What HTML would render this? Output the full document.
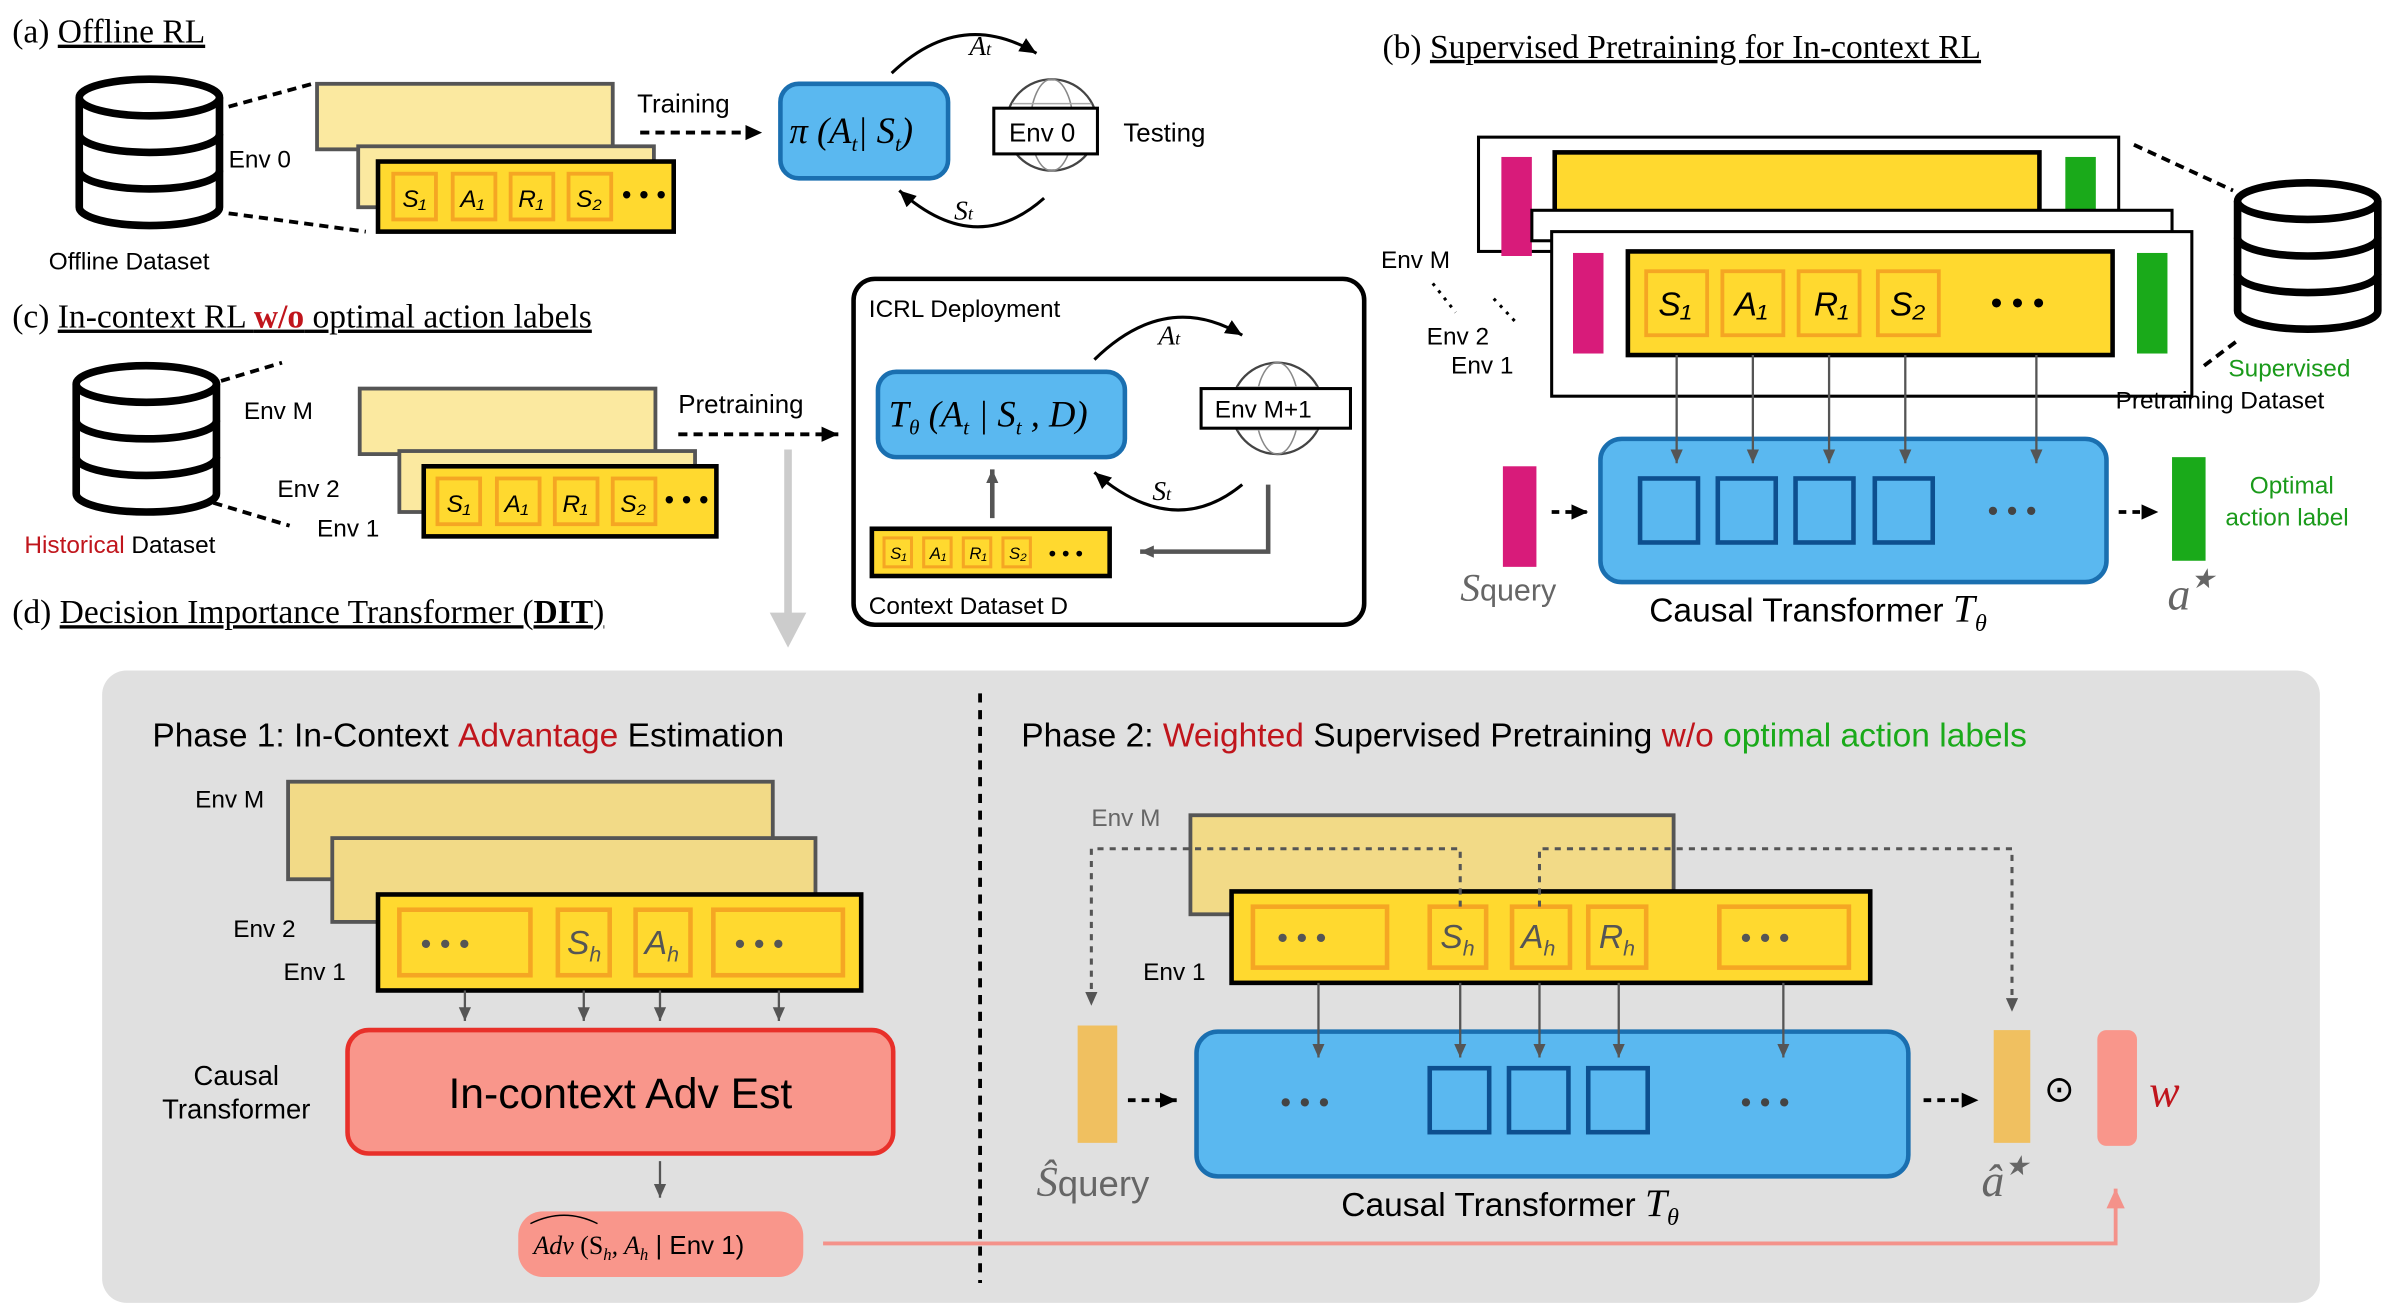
<!DOCTYPE html>
<html><head><meta charset="utf-8"><style>
html,body{margin:0;padding:0;background:#fff;}
svg{display:block;}
text{font-family:"Liberation Sans",sans-serif;}
.s{font-family:"Liberation Serif",serif;}
</style></head><body>
<svg width="2390" height="1312" viewBox="0 0 1568 861" preserveAspectRatio="none" xmlns="http://www.w3.org/2000/svg">
<defs>
<marker id="ah" markerUnits="userSpaceOnUse" markerWidth="12" markerHeight="12" refX="11" refY="6" orient="auto"><path d="M0,1 L11,6 L0,11 z" fill="#000"/></marker>
<marker id="ag" markerUnits="userSpaceOnUse" markerWidth="10" markerHeight="10" refX="9" refY="5" orient="auto"><path d="M0,1 L9,5 L0,9 z" fill="#555"/></marker>
<marker id="ap" markerUnits="userSpaceOnUse" markerWidth="14" markerHeight="14" refX="13" refY="7" orient="auto"><path d="M0,1 L13,7 L0,13 z" fill="#f4928a"/></marker>
<g id="db">
<path d="M0,12 v72 a46,12 0 0 0 92,0 v-72" fill="#fff" stroke="#000" stroke-width="5"/>
<ellipse cx="46" cy="12" rx="46" ry="12" fill="#fff" stroke="#000" stroke-width="5"/>
<path d="M0,36 a46,12 0 0 0 92,0 M0,60 a46,12 0 0 0 92,0" fill="none" stroke="#000" stroke-width="5"/>
</g>
<g id="globe"><circle cx="0" cy="0" r="30" fill="#fff" stroke="#444" stroke-width="1.5"/><ellipse cx="0" cy="0" rx="14" ry="30" fill="none" stroke="#888"/><line x1="-30" y1="0" x2="30" y2="0" stroke="#888"/><path d="M-26,-14 h52 M-26,14 h52" stroke="#aaa" fill="none"/></g>
</defs>

<!-- (a) -->
<text x="8" y="28" font-size="22" class="s">(a) <tspan text-decoration="underline">Offline RL</tspan></text>
<use href="#db" x="52" y="52"/>
<text x="32" y="177" font-size="16">Offline Dataset</text>
<path d="M150,70 L205,55 M150,140 L240,152" stroke="#000" stroke-width="2.5" stroke-dasharray="6,4"/>
<rect x="208" y="55" width="194" height="43" fill="#fbe9a0" stroke="#555" stroke-width="2.5"/>
<rect x="235" y="96" width="194" height="40" fill="#fbe9a0" stroke="#555" stroke-width="2.5"/>
<text x="150" y="110" font-size="16">Env 0</text>
<rect x="248" y="106" width="194" height="46" fill="#ffd92f" stroke="#000" stroke-width="3"/>
<g fill="#ffd92f" stroke="#f5a623" stroke-width="2.5">
<rect x="258" y="114" width="28" height="30"/><rect x="297" y="114" width="28" height="30"/><rect x="335" y="114" width="28" height="30"/><rect x="373" y="114" width="28" height="30"/></g>
<g font-size="16" class="s" font-style="italic"><text x="264" y="136">S₁</text><text x="302" y="136">A₁</text><text x="340" y="136">R₁</text><text x="378" y="136">S₂</text></g>
<text x="408" y="134" font-size="18">• • •</text>
<text x="418" y="74" font-size="17">Training</text>
<line x1="420" y1="87" x2="500" y2="87" stroke="#000" stroke-width="2.5" stroke-dasharray="6,4" marker-end="url(#ah)"/>
<rect x="512" y="55" width="110" height="62" rx="12" fill="#5ab8f0" stroke="#1a6fb0" stroke-width="3"/>
<text x="518" y="94" font-size="24" class="s" font-style="italic">π (A<tspan font-size="14" dy="5">t</tspan><tspan dy="-5">| S</tspan><tspan font-size="14" dy="5">t</tspan><tspan dy="-5">)</tspan></text>
<path d="M585,48 Q630,5 680,35" fill="none" stroke="#000" stroke-width="2" marker-end="url(#ah)"/>
<text x="636" y="36" font-size="18" class="s" font-style="italic">A<tspan font-size="12">t</tspan></text>
<path d="M685,130 Q640,170 590,125" fill="none" stroke="#000" stroke-width="2" marker-end="url(#ah)"/>
<text x="626" y="144" font-size="18" class="s" font-style="italic">S<tspan font-size="12">t</tspan></text>
<use href="#globe" x="690" y="82"/>
<rect x="652" y="71" width="68" height="30" fill="#fff" stroke="#000" stroke-width="2"/>
<text x="662" y="93" font-size="17">Env 0</text>
<text x="737" y="93" font-size="17">Testing</text>

<!-- (b) -->
<text x="907" y="38" font-size="22" class="s">(b) <tspan text-decoration="underline">Supervised Pretraining for In-context RL</tspan></text>
<rect x="970" y="90" width="420" height="75" fill="#fff" stroke="#000" stroke-width="2"/>
<rect x="985" y="103" width="20" height="65" fill="#d81b7a"/>
<rect x="1020" y="100" width="318" height="40" fill="#ffd92f" stroke="#000" stroke-width="3"/>
<rect x="1355" y="103" width="20" height="40" fill="#1aaa1a"/>
<rect x="1005" y="138" width="420" height="20" fill="#fff" stroke="#000" stroke-width="2"/>
<rect x="1018" y="152" width="420" height="108" fill="#fff" stroke="#000" stroke-width="2"/>
<rect x="1032" y="166" width="20" height="66" fill="#d81b7a"/>
<rect x="1068" y="165" width="318" height="68" fill="#ffd92f" stroke="#000" stroke-width="3"/>
<rect x="1402" y="166" width="20" height="66" fill="#1aaa1a"/>
<g fill="#ffd92f" stroke="#f5a623" stroke-width="2.5">
<rect x="1080" y="178" width="40" height="42"/><rect x="1130" y="178" width="40" height="42"/><rect x="1180" y="178" width="40" height="42"/><rect x="1232" y="178" width="40" height="42"/></g>
<g font-size="22" class="s" font-style="italic"><text x="1088" y="207">S₁</text><text x="1138" y="207">A₁</text><text x="1190" y="207">R₁</text><text x="1240" y="207">S₂</text></g>
<text x="1306" y="206" font-size="22">• • •</text>
<text x="906" y="176" font-size="16">Env M</text>
<text x="936" y="226" font-size="16">Env 2</text>
<text x="952" y="245" font-size="16">Env 1</text>
<path d="M940,186 L955,205 M980,196 L995,212" stroke="#000" stroke-width="2" stroke-dasharray="2,4"/>
<use href="#db" x="1468" y="120"/>
<path d="M1400,95 L1465,125 M1446,240 L1470,222" stroke="#000" stroke-width="2.5" stroke-dasharray="6,4"/>
<text x="1462" y="247" font-size="16" fill="#1a9a1a">Supervised</text>
<text x="1388" y="268" font-size="16">Pretraining Dataset</text>
<rect x="1050" y="288" width="332" height="94" rx="14" fill="#5ab8f0" stroke="#1a6fb0" stroke-width="3"/>
<g stroke="#555" stroke-width="1.5" marker-end="url(#ag)">
<line x1="1100" y1="233" x2="1100" y2="304"/><line x1="1150" y1="233" x2="1150" y2="304"/><line x1="1200" y1="233" x2="1200" y2="304"/><line x1="1250" y1="233" x2="1250" y2="304"/><line x1="1336" y1="233" x2="1336" y2="304"/></g>
<g fill="none" stroke="#0d4f8f" stroke-width="3">
<rect x="1076" y="314" width="38" height="42"/><rect x="1127" y="314" width="38" height="42"/><rect x="1178" y="314" width="38" height="42"/><rect x="1230" y="314" width="38" height="42"/></g>
<text x="1304" y="342" font-size="20" fill="#444">• • •</text>
<rect x="986" y="306" width="22" height="66" fill="#d81b7a"/>
<line x1="1018" y1="336" x2="1042" y2="336" stroke="#000" stroke-width="2.5" stroke-dasharray="5,4" marker-end="url(#ah)"/>
<text x="958" y="394" font-size="26" fill="#666" class="s" font-style="italic">S<tspan font-family="Liberation Sans" font-style="normal" font-size="20">query</tspan></text>
<line x1="1390" y1="336" x2="1416" y2="336" stroke="#000" stroke-width="2.5" stroke-dasharray="5,4" marker-end="url(#ah)"/>
<rect x="1425" y="300" width="22" height="68" fill="#1aaa1a"/>
<text x="1476" y="324" font-size="16" fill="#1a9a1a">Optimal</text>
<text x="1460" y="345" font-size="16" fill="#1a9a1a">action label</text>
<text x="1422" y="400" font-size="30" fill="#666" class="s" font-style="italic">a<tspan font-size="18" dy="-14">★</tspan></text>
<text x="1082" y="408" font-size="22">Causal Transformer <tspan class="s" font-style="italic" font-size="26">T<tspan font-size="16" dy="6">θ</tspan></tspan></text>

<!-- (c) -->
<text x="8" y="215" font-size="22" class="s">(c) <tspan text-decoration="underline">In-context RL <tspan fill="#c0151c" font-weight="bold">w/o</tspan> optimal action labels</tspan></text>
<use href="#db" x="50" y="240"/>
<path d="M145,250 L185,238 M140,330 L190,345" stroke="#000" stroke-width="2.5" stroke-dasharray="6,4"/>
<rect x="236" y="255" width="194" height="43" fill="#fbe9a0" stroke="#555" stroke-width="2.5"/>
<rect x="262" y="296" width="194" height="40" fill="#fbe9a0" stroke="#555" stroke-width="2.5"/>
<rect x="278" y="306" width="192" height="46" fill="#ffd92f" stroke="#000" stroke-width="3"/>
<g fill="#ffd92f" stroke="#f5a623" stroke-width="2.5">
<rect x="287" y="314" width="28" height="30"/><rect x="326" y="314" width="28" height="30"/><rect x="364" y="314" width="28" height="30"/><rect x="402" y="314" width="28" height="30"/></g>
<g font-size="16" class="s" font-style="italic"><text x="293" y="336">S₁</text><text x="331" y="336">A₁</text><text x="369" y="336">R₁</text><text x="407" y="336">S₂</text></g>
<text x="436" y="334" font-size="18">• • •</text>
<text x="160" y="275" font-size="16">Env M</text>
<text x="182" y="326" font-size="16">Env 2</text>
<text x="208" y="352" font-size="16">Env 1</text>
<text x="16" y="363" font-size="16"><tspan fill="#c0151c">Historical</tspan> Dataset</text>
<text x="445" y="271" font-size="17">Pretraining</text>
<line x1="445" y1="285" x2="550" y2="285" stroke="#000" stroke-width="2.5" stroke-dasharray="6,4" marker-end="url(#ah)"/>
<line x1="517" y1="295" x2="517" y2="405" stroke="#ccc" stroke-width="5"/>
<path d="M505,402 L529,402 L517,425 z" fill="#ccc"/>
<rect x="560" y="183" width="335" height="227" rx="14" fill="#fff" stroke="#000" stroke-width="3"/>
<text x="570" y="208" font-size="16">ICRL Deployment</text>
<rect x="576" y="244" width="162" height="56" rx="12" fill="#5ab8f0" stroke="#1a6fb0" stroke-width="3"/>
<text x="583" y="280" font-size="24" class="s" font-style="italic">T<tspan font-size="14" dy="5">θ</tspan><tspan dy="-5"> (A</tspan><tspan font-size="14" dy="5">t</tspan><tspan dy="-5"> | S</tspan><tspan font-size="14" dy="5">t</tspan><tspan dy="-5"> , D)</tspan></text>
<path d="M718,236 Q765,190 815,220" fill="none" stroke="#000" stroke-width="2" marker-end="url(#ah)"/>
<text x="760" y="226" font-size="18" class="s" font-style="italic">A<tspan font-size="12">t</tspan></text>
<use href="#globe" x="838" y="268"/>
<rect x="788" y="255" width="98" height="26" fill="#fff" stroke="#000" stroke-width="2"/>
<text x="797" y="274" font-size="16">Env M+1</text>
<path d="M815,318 Q770,355 718,310" fill="none" stroke="#000" stroke-width="2" marker-end="url(#ah)"/>
<text x="756" y="328" font-size="18" class="s" font-style="italic">S<tspan font-size="12">t</tspan></text>
<path d="M832,318 L832,362 L748,362" fill="none" stroke="#555" stroke-width="3" marker-end="url(#ag)"/>
<line x1="651" y1="340" x2="651" y2="308" stroke="#555" stroke-width="3" marker-end="url(#ag)"/>
<rect x="572" y="347" width="156" height="31" fill="#ffd92f" stroke="#000" stroke-width="3"/>
<g fill="#ffd92f" stroke="#f5a623" stroke-width="2"><rect x="580" y="353" width="18" height="19"/><rect x="606" y="353" width="18" height="19"/><rect x="632" y="353" width="18" height="19"/><rect x="658" y="353" width="18" height="19"/></g>
<g font-size="11" class="s" font-style="italic"><text x="584" y="367">S₁</text><text x="610" y="367">A₁</text><text x="636" y="367">R₁</text><text x="662" y="367">S₂</text></g>
<text x="688" y="368" font-size="14">• • •</text>
<text x="570" y="403" font-size="16">Context Dataset D</text>

<!-- (d) -->
<text x="8" y="409" font-size="22" class="s">(d) <tspan text-decoration="underline">Decision Importance Transformer (<tspan font-weight="bold">DIT</tspan>)</tspan></text>
<rect x="67" y="440" width="1455" height="415" rx="16" fill="#e0e0e0"/>
<line x1="643" y1="455" x2="643" y2="842" stroke="#000" stroke-width="2.5" stroke-dasharray="6,5"/>
<text x="100" y="490" font-size="22">Phase 1: In-Context <tspan fill="#c0151c">Advantage</tspan> Estimation</text>
<text x="670" y="490" font-size="22">Phase 2: <tspan fill="#c0151c">Weighted</tspan> Supervised Pretraining <tspan fill="#c0151c">w/o</tspan> <tspan fill="#1aaa1a">optimal action labels</tspan></text>
<rect x="189" y="513" width="318" height="64" fill="#f2da87" stroke="#555" stroke-width="2.5"/>
<rect x="218" y="550" width="317" height="55" fill="#f2da87" stroke="#555" stroke-width="2.5"/>
<rect x="248" y="587" width="317" height="63" fill="#ffd92f" stroke="#000" stroke-width="3"/>
<g fill="#ffd92f" stroke="#f5a623" stroke-width="3"><rect x="262" y="597" width="86" height="43"/><rect x="366" y="597" width="34" height="43"/><rect x="417" y="597" width="36" height="43"/><rect x="468" y="597" width="85" height="43"/></g>
<text x="276" y="626" font-size="20" fill="#555">• • •</text><text x="482" y="626" font-size="20" fill="#555">• • •</text>
<g font-size="22" class="s" font-style="italic" fill="#555"><text x="372" y="626">S<tspan font-size="14" dy="5">h</tspan></text><text x="423" y="626">A<tspan font-size="14" dy="5">h</tspan></text></g>
<text x="128" y="530" font-size="16">Env M</text><text x="153" y="615" font-size="16">Env 2</text><text x="186" y="643" font-size="16">Env 1</text>
<g stroke="#555" stroke-width="1.5" marker-end="url(#ag)"><line x1="305" y1="650" x2="305" y2="670"/><line x1="383" y1="650" x2="383" y2="670"/><line x1="433" y1="650" x2="433" y2="670"/><line x1="511" y1="650" x2="511" y2="670"/></g>
<rect x="228" y="676" width="358" height="81" rx="14" fill="#f9968b" stroke="#e8302a" stroke-width="3"/>
<text x="407" y="727" font-size="28" text-anchor="middle">In-context Adv Est</text>
<text x="155" y="712" font-size="18" text-anchor="middle">Causal</text><text x="155" y="734" font-size="18" text-anchor="middle">Transformer</text>
<line x1="433" y1="762" x2="433" y2="786" stroke="#555" stroke-width="1.5" marker-end="url(#ag)"/>
<rect x="340" y="795" width="187" height="43" rx="16" fill="#f9968b"/>
<text x="350" y="823" font-size="17" class="s" font-style="italic">Adv<tspan font-style="normal"> (S</tspan><tspan font-size="11" dy="4">h</tspan><tspan dy="-4">, A</tspan><tspan font-size="11" dy="4">h</tspan><tspan dy="-4" font-family="Liberation Sans" font-style="normal"> | Env 1)</tspan></text>
<path d="M348,803 Q370,792 392,803" fill="none" stroke="#000" stroke-width="1"/>
<path d="M540,816 L1388,816 L1388,780" fill="none" stroke="#f4928a" stroke-width="2.5" marker-end="url(#ap)"/>

<rect x="781" y="535" width="317" height="65" fill="#f2da87" stroke="#555" stroke-width="2.5"/>
<rect x="808" y="585" width="419" height="60" fill="#ffd92f" stroke="#000" stroke-width="3"/>
<g fill="#ffd92f" stroke="#f5a623" stroke-width="3"><rect x="822" y="595" width="88" height="40"/><rect x="938" y="595" width="37" height="40"/><rect x="992" y="595" width="38" height="40"/><rect x="1042" y="595" width="38" height="40"/><rect x="1128" y="595" width="85" height="40"/></g>
<text x="838" y="622" font-size="20" fill="#555">• • •</text><text x="1142" y="622" font-size="20" fill="#555">• • •</text>
<g font-size="22" class="s" font-style="italic" fill="#555"><text x="945" y="622">S<tspan font-size="14" dy="5">h</tspan></text><text x="998" y="622">A<tspan font-size="14" dy="5">h</tspan></text><text x="1049" y="622">R<tspan font-size="14" dy="5">h</tspan></text></g>
<text x="716" y="542" font-size="16" fill="#666">Env M</text><text x="750" y="643" font-size="16">Env 1</text>
<path d="M958,595 L958,557 L716,557 L716,660" fill="none" stroke="#555" stroke-width="2" stroke-dasharray="4,4" marker-end="url(#ag)"/>
<path d="M1010,595 L1010,557 L1320,557 L1320,664" fill="none" stroke="#555" stroke-width="2" stroke-dasharray="4,4" marker-end="url(#ag)"/>
<rect x="785" y="677" width="467" height="95" rx="14" fill="#5ab8f0" stroke="#1a6fb0" stroke-width="3"/>
<g stroke="#555" stroke-width="1.5" marker-end="url(#ag)"><line x1="865" y1="645" x2="865" y2="694"/><line x1="958" y1="645" x2="958" y2="694"/><line x1="1010" y1="645" x2="1010" y2="694"/><line x1="1062" y1="645" x2="1062" y2="694"/><line x1="1170" y1="645" x2="1170" y2="694"/></g>
<g fill="none" stroke="#0d4f8f" stroke-width="3"><rect x="938" y="701" width="39" height="42"/><rect x="990" y="701" width="39" height="42"/><rect x="1042" y="701" width="39" height="42"/></g>
<text x="840" y="730" font-size="20" fill="#444">• • •</text><text x="1142" y="730" font-size="20" fill="#444">• • •</text>
<rect x="707" y="673" width="26" height="77" fill="#f0c060"/>
<line x1="740" y1="722" x2="772" y2="722" stroke="#000" stroke-width="2.5" stroke-dasharray="5,4" marker-end="url(#ah)"/>
<text x="680" y="785" font-size="28" fill="#666" class="s" font-style="italic">Ŝ<tspan font-family="Liberation Sans" font-style="normal" font-size="24">query</tspan></text>
<line x1="1262" y1="722" x2="1298" y2="722" stroke="#000" stroke-width="2.5" stroke-dasharray="5,4" marker-end="url(#ah)"/>
<rect x="1308" y="676" width="24" height="74" fill="#f0c060"/>
<text x="1300" y="785" font-size="30" fill="#666" class="s" font-style="italic">â<tspan font-size="18" dy="-14">★</tspan></text>
<text x="1341" y="723" font-size="24">⊙</text>
<rect x="1376" y="676" width="26" height="76" rx="6" fill="#f9968b"/>
<text x="1410" y="726" font-size="30" fill="#c0151c" class="s" font-style="italic">w</text>
<text x="880" y="798" font-size="22">Causal Transformer <tspan class="s" font-style="italic" font-size="26">T<tspan font-size="16" dy="6">θ</tspan></tspan></text>
</svg>
</body></html>
